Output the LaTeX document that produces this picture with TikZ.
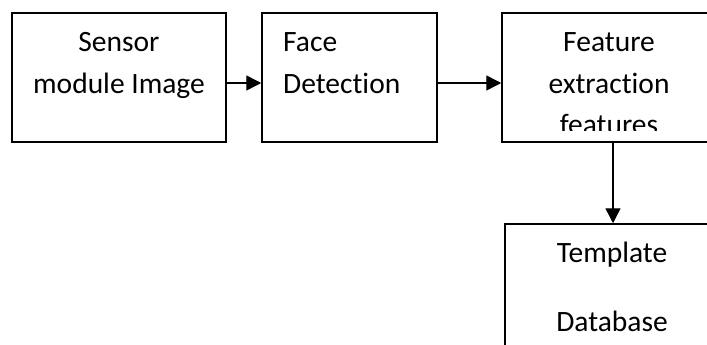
\documentclass[tikz,border=0pt]{standalone}
\usepackage{fontspec}
\setmainfont{Carlito}[Ligatures=NoCommon]
\usetikzlibrary{arrows.meta}
\begin{document}
\begin{tikzpicture}[x=1pt,y=-1pt,
  box/.style={draw,line width=1.5pt,inner sep=0pt,minimum height=129pt},
  txt/.style={inner sep=0pt,font=\fontsize{29.5}{40}\selectfont},
  conn/.style={line width=1.4pt,-{Triangle[length=15pt,width=15pt]}}]
\clip (0,0) rectangle (707,345);
\node[box,minimum width=214pt] (sensor) at (119,77.5) {};
\node[box,minimum width=175pt] (face) at (349.5,77.5) {};
\node[box,minimum width=214pt] (feat) at (609,77.5) {};
\node[box,minimum width=214pt,minimum height=150pt] (tmpl) at (612,299) {};
% texts
\node[txt,anchor=base] (s1) at (119,52) {Sensor};
\node[txt,anchor=base] (s2) at (119,93) {module Image};
\node[txt,anchor=base west] (f1) at (283,52) {Face};
\node[txt,anchor=base west] (f2) at (283,93) {Detection};
\node[txt,anchor=base] (e1) at (609,52) {Feature};
\node[txt,anchor=base] (e2) at (609,93) {extraction};
\begin{scope}
\clip (503,14) rectangle (716,130);
\node[txt,anchor=base] (e3) at (609,134) {features};
\end{scope}
\node[txt,anchor=base] (t1) at (612,262) {Template};
\node[txt,anchor=base] (t2) at (612,331) {Database};
% connectors
\draw[conn] ([yshift=-5.5pt]sensor.east) -- ([yshift=-5.5pt]face.west);
\draw[conn] ([yshift=-5.5pt]face.east) -- ([yshift=-5.5pt]feat.west);
\draw[conn] ([xshift=4pt]feat.south) -- ([xshift=1pt]tmpl.north);
\end{tikzpicture}
\end{document}
